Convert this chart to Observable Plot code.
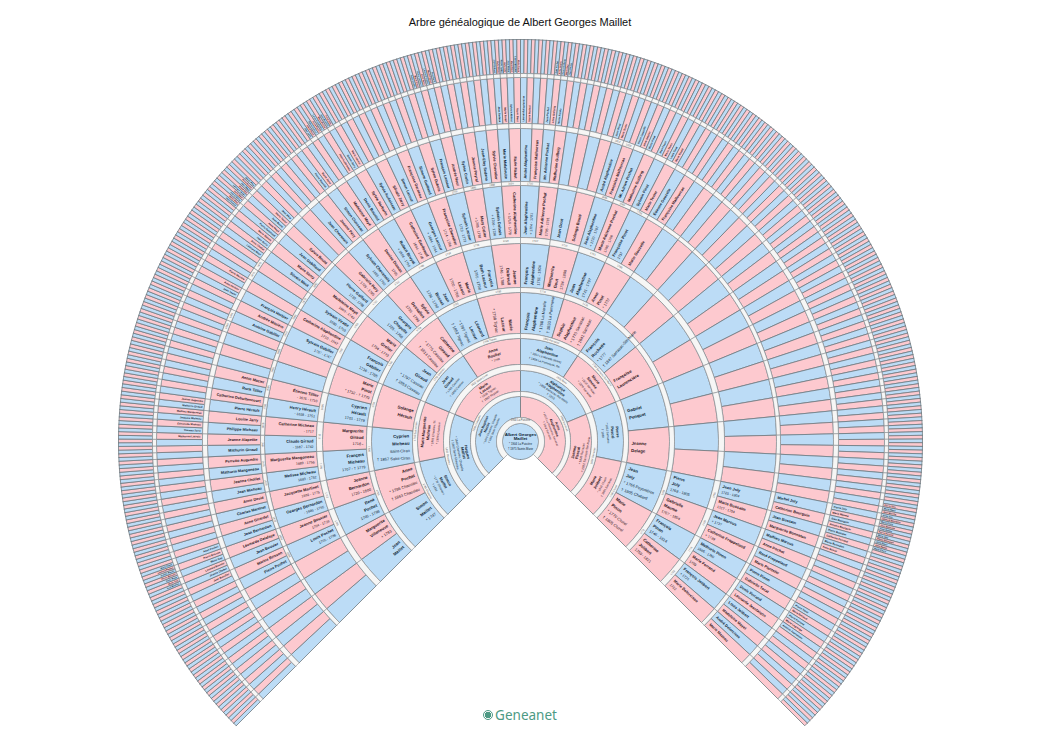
<!DOCTYPE html>
<html lang="fr">
<head>
<meta charset="utf-8">
<script src="https://cdn.jsdelivr.net/npm/d3@7"></script>
<script src="https://cdn.jsdelivr.net/npm/@observablehq/plot@0.6"></script>
<style>
  html, body { margin: 0; padding: 0; background: #fff; }
  body { position: relative; width: 1040px; height: 734px; overflow: hidden; font-family: "Liberation Sans", sans-serif; }
  #title { height: 30px; box-sizing: border-box; padding-top: 15px; text-align: center; font-size: 11px; line-height: 14px; color: #111; }
  #chart svg { display: block; }
  #brand { position: absolute; left: 0; right: 0; top: 705px; height: 20px; display: flex; justify-content: center; align-items: center; gap: 2px;
           font-family: "Noto Sans", sans-serif; font-size: 13.5px; color: #4d9a84; }
  #brand i { display: inline-block; width: 8px; height: 8px; border: 1.8px solid #4d9a84; border-radius: 50%; background: radial-gradient(circle, #4d9a84 55%, #fff 60%); }
</style>
</head>
<body>
<div id="title">Arbre généalogique de Albert Georges Maillet</div>
<div id="chart"></div>
<div id="brand"><i></i><span>Geneanet</span></div>
<script>
// Each entry: index in the generation (from the lower left, clockwise), name lines, detail lines.
const gen0 = [[0, "Albert Georges|Maillet", "* 1904 La Puisière|† 1975 Sainte-Marie"]];
const gen1 = [
  [0, "Jean Baptiste|Maillet", "* 1875 Chassieu, Chapelle|† 1931 Saint-Chassieu"],
  [1, "Anne|Alaphentine", "* 1873 La Pommerie, Sarrazac|† 1949 Sarrazac"]
];
const gen2 = [
  [0, "Hugues|Maillet", "* 1840 Chassieu, Chapelle|† 1902 Saint-Chassieu"],
  [1, "Marie|Lacour", "* 1838 Tignac|† 1880 Peyzac"],
  [2, "Alphonse|Alaphentine", "* 1838 Sarrazac-Ste-Marie|† 1913"],
  [3, "Jeanne|Pascal", "* 1845 Sarrazac|† 1921 Sarrazac-Ste-Marie"]
];
const gen3 = [
  [0, "Simon|Maillet", "* 1778 Chassieu|† 1851"],
  [1, "Marie Marguerite|Micheau", "* 1802 Chassieu, St.|† 1876 Chassieu"],
  [2, "Jean|Giraud", "* 1795 Cassiau|† 1860 Cassiau"],
  [3, "Anne|Boulier", "* 1798"],
  [4, "Jean|Alaphentine", "* 1804 La Morelle (Brive)|† 1855 La Pommerie, Sa."],
  [5, "Marie|Simone", "* 1810 Sarrazac|† 1870 Sarrazac"],
  [6, "Pierre|Pascal", "* 1812 Sarrazac|† 1880"],
  [7, "Marie|Jolibert", "* 1815 Cluzel|† 1881 Sarrazac"]
];
const gen4 = [
  [0, "Simon|Maillet", "* 1747"],
  [1, "Anne|Pochat", "* 1786 Chassieu|† 1863 Chassieu"],
  [2, "Cyprien|Micheau", "Saint-Ciran|† 1867 Saint-Ciran"],
  [3, "Solange|Hérault", ""],
  [4, "Jean|Giraud", "* 1797 Cassiau|† 1853 Cassiau"],
  [5, "Catherine|Giraud", "* 1775 Cassiau|† 1814 Cassiau"],
  [6, "Léonard|Lacour", "* 1797 Tignac|† 1852 Tignac"],
  [7, "Marie|Lacour", "* 1798 Tignac"],
  [8, "François|Alaphentine", "* 1768 La Morelle|† 1833 La Pommerie"],
  [9, "Sophie|Alaphentine", "* 1770 Sarrazac|† 1841 Sarrazac"],
  [10, "François|Rochette", "* 1777|† 1847 Sarrazac-Ste-Marie"],
  [11, "Françoise|Laurencière", ""],
  [12, "Gabriel|Penquet", ""],
  [13, "Jeanne|Delage", ""],
  [14, "Jean|Joly", "* 1766 Peyssières|† 1805 Chatard"],
  [15, "Marie|Pinon", "* 1770 Cluzel|† 1805 Cluzel"]
];
const gen5 = [
  [0, "Jean|Maillet", ""],
  [1, "Marguerite|Villeneuve", "+ 1793"],
  [2, "René|Pochet", "1705 - 1798"],
  [3, "Jeanne|Bernardon", "1720 - 1800"],
  [4, "François|Micheau", "1707 - † 1779"],
  [5, "Marguerite|Giraud", "1716 -"],
  [6, "Cyprien|Hérault", "1701 - 1779"],
  [7, "Marie|Pinot", "* 1732 - † 1779"],
  [8, "François|Gabilier", "1736 - 1785"],
  [9, "Marie|Grelier", "1734 - 1773"],
  [10, "Georges|Chapelle", "1725 - 1768"],
  [11, "Sylvie|Dessalles", "1735 - 1796"],
  [12, "Jean|Bosset", "1736 - 1790"],
  [13, "Marie|Lacour", "1700 - 1768"],
  [14, "François|Beth Lacour", "1755 - 1798"],
  [15, "Jeanne|Dubreuil", "1746 - 1788"],
  [16, "François|Alaphentine", "1751 - 1804"],
  [17, "Marguerite|Gout", "1734 - 1800"],
  [18, "Jean|Alaphentine", "1741 - 1797"],
  [19, "Anne|Pinot", "* 1737"],
  [28, "Pierre|Joly", "1768 - 1805"],
  [29, "Gabrielle|Maume", "1767 - 1804"],
  [30, "François|Pinon", "1746 - 1814"],
  [31, "Catherine|Jolibert", "1750 - 1821"]
];
const gen6 = [
  [4, "Louis Pochet", "1705 - 1786"],
  [5, "Jeanne Bouvier", "1704 - 1738"],
  [6, "Georges Bernardon", "- 1698 - 1755"],
  [7, "Jacquette Martinet", "1692 - 1775"],
  [8, "Melisse Micheau", "1683 - 1752"],
  [9, "Marguerite Mangoneau", "1689 - 1756"],
  [10, "Claude Giraud", "- 1687 - 1742"],
  [11, "Catherine Micheau", "- 1717"],
  [12, "Henry Hérault", "- 1658 - 1751"],
  [13, "Étienne Tillier", "- 1675 - 1710"],
  [16, "Sylvain Gabiller", "1707 - 1747"],
  [17, "Catherine Alaphentine", "1710 - 1747"],
  [18, "Sylvain Viratte", "1680 - 1750"],
  [19, "Madeleine Mayé", "1680 - 1740"],
  [20, "Pierre Gaillard", "1730 - 1798"],
  [21, "Gabrielle Péry", "+ 1725 - 1795"],
  [22, "Sylvain Chevenais", "1695 - 1750"],
  [23, "Denise Dumas", "1705"],
  [24, "Robert Bruyat", "+ 1698 - 1759"],
  [25, "Catherine Gardeaud", "1694 - 1746"],
  [26, "Georges Lacour", "+ 1684 - 1744"],
  [27, "Françoise Chevalier", "1714 - 1786"],
  [28, "Sylvain Lacour", "1713 - 1773"],
  [29, "Mary Catier", "+ 1705 - 1787"],
  [30, "Sylvain Dubois", "+ 1706 - 1736"],
  [31, "Catherine Alaphentine", "+ 1716 - 1778"],
  [32, "Jean Alaphentine", "+ 1704 - 1791"],
  [33, "Marie Adrienne Pochat", "1705 - 1781"],
  [34, "Jean Gout", ""],
  [35, "Solange Bouté", ""],
  [36, "Jean Alaphentine", "+ 1720 - 1797"],
  [37, "Marie Adrienne Pochat", "1705 - 1768"],
  [38, "Françoise Pinot", "1737"],
  [39, "Marie Gouzelle", ""],
  [56, "Jean Joly", "1725 - 1804"],
  [57, "Marie Bussaim", "1727 - 1754"],
  [58, "Jean Marous", "+ 1737"],
  [59, "Catherine Froppelaud", "+ 1739"],
  [60, "Mathurin Pinon", "1686 - 1760"],
  [61, "Marie Ferrand", "1709"],
  [62, "François Jolibert", "+ 1724"],
  [63, "Marie Delorcisse", "1702"]
];
const gen7 = [
  [8, "Pierre Pochet"], [9, "Marine Brisson"], [10, "Jean Bouvier"], [11, "Léonarde Delafaye"],
  [12, "Jean Bernardon"], [13, "Anne Girardet"], [14, "Charles Martinet"], [15, "Anne David"],
  [16, "Jean Micheau"], [17, "Jeanne Chollet"], [18, "Mathurin Mangoneau"], [19, "Perrette Augendre"],
  [20, "Mathurin Giraud"], [21, "Jeanne Alapetite"], [22, "Philippe Micheau"], [23, "Louise Jarry"],
  [24, "Pierre Hérault"], [25, "Catherine Debuttencourt"], [26, "Rock Tillier"], [27, "Annie Mazier"],
  [32, "Antoine Gabiller"], [33, "Andrée Mazière"], [34, "François Herbier"],
  [38, "Silvain Meut"], [39, "Marie Sorry"], [40, "Jean Gabillaud"], [41, "Sylvie Bouté"],
  [44, "Jean Chevenais"], [45, "Jeanne Péry"], [46, "Simon Clusseau"], [47, "Madeleine Mayé"],
  [48, "Denis Bouniol"], [49, "Sylvie Barbarin"], [50, "Sylvie Audoiseau"], [51, "Silvain Jarry"],
  [52, "Simon Lacour"], [53, "Françoise Gardeau"], [54, "Simone Guillaud"], [55, "Sylvie Dubois"],
  [56, "François Lamour"], [57, "Andrée Neur"], [58, "Sylvie Crutin"], [59, "Jeanne Peyrol"],
  [60, "Jean-Eloy Sedana"], [61, "Sylvie Chevalier"], [62, "Marie Malabruite"], [63, "Marie Mabut"],
  [64, "André Alaphentine"], [65, "Françoise Malfourcas"], [66, "Mr. Adrienne Pochat"], [67, "Mathurine Guilbrig"],
  [72, "André Alaphentine"], [73, "Françoise Malfourcas"], [74, "Mr. Adrien Pochat"], [75, "Mathurine Guilbrig"],
  [76, "Sylvain Pinot"], [77, "Marie Texier"], [78, "Étienne Gouzelle"], [79, "Françoise Malfourcas"],
  [112, "Michel Joly"], [113, "Catherine Bourguin"], [114, "Jean Bussain"], [115, "Marguerite Bonnaton"],
  [116, "Mathieu Marous"], [117, "Anne Pochet"], [118, "René Froppelaud"], [119, "Marie Plantefer"],
  [120, "Pierre Pinon"], [121, "Gabrielle Tocat"], [122, "Denis Ferrand"], [123, "Léonarde Jeantaison"],
  [124, "Louis Jolibert"], [125, "Madeleine Mayet"], [126, "André Delorcisse"], [127, "Marie Mazeau"]
];
const gen8 = [
  [19, "Jean Boucher"], [20, "Jeanne Chabot"], [21, "Léonard Bouvier"], [22, "Marie Gay"], [23, "Pierre Brisson"], [24, "Anne Pochet"],
  [43, "Mathurine Lacroix"], [44, "Thomas Jarry"], [45, "Étiennette Micheau"], [46, "Jacques Micheau"],
  [47, "Mathieu Mangoneau"], [48, "Mathurin Giraud"], [49, "Jeanne Augendre"],
  [68, "Jean Texier"], [69, "Anne Herbier"], [71, "Pierre Mazière"],
  [76, "Léonard Meut"], [77, "Anne Chollet"], [78, "Jean Sorry"], [79, "Marie Dubois"], [80, "Pierre Gabillaud"],
  [81, "Anne Mayé"], [82, "Jean Bouté"], [83, "Marie Texier"], [84, "Jean Péry"],
  [92, "Pierre Bouniol"], [93, "Marie Jarry"],
  [97, "Jean Audoiseau"], [98, "Simon Jarry"], [99, "Marie Lacour"],
  [124, "Jean Sedana"], [125, "Marie Tardif"], [126, "Sylvain Mabut"], [127, "Marie Bost"], [128, "Léonard Alaphentine"], [129, "Marie Pochat"],
  [132, "Jean Pochat"], [133, "Anne Guilbrig"], [134, "Marie Rouby"],
  [144, "Jean Pinot"], [145, "Marie Texier"],
  [148, "Pierre Gouzelle"], [149, "Anne Soulier"], [150, "Marie Pinot"],
  [152, "Jean Faure"], [153, "Marie Faure"], [154, "Louis Gout"], [155, "Marie Bouté"],
  [224, "Pierre Joly"], [225, "Marie Maume"], [226, "Jean Bourguin"], [227, "Antoine Bourguin"],
  [228, "Pierre Bussaim"], [229, "Catherine Ferrand"], [230, "Blaise Bonnaton"], [231, "Anne Bossé"],
  [242, "Pierre Tocat"], [243, "Marie Barlaud"], [244, "Pierre Ferrand"], [245, "Marie Lagrange"], [246, "Antoine Jeantaison"]
];
const gen9 = [
  [42, "Jean Bouvier"], [43, "Marie Gay"], [44, "Anne Roux"], [45, "Pierre Brisson"], [46, "Jeanne Roche"], [47, "Léonard Pochet"], [48, "Marie Faure"],
  [160, "Jean Dubois"], [161, "Marie Meut"], [162, "Pierre Sorry"], [163, "Anne Meut"], [164, "Léonard Texier"], [165, "Marie Gay"], [166, "Jean Mayé"], [167, "Anne Roche"], [168, "Simon Péry"],
  [190, "Jean Jarry"], [191, "Marie Roux"], [192, "Pierre Lacour"], [193, "Anne Faure"], [194, "Louis Audoiseau"], [195, "Marie Roche"], [196, "Jean Bouniol"], [197, "Anne Gay"],
  [224, "Jean Dumas"], [225, "Marie Gout"], [226, "Pierre Lamour"], [227, "Anne Neur"], [228, "Léonard Crutin"], [229, "Marie Peyrol"], [230, "Jean Bost"],
  [248, "Jean Sedana"], [249, "Marie Roux"], [250, "Pierre Tardif"], [251, "Anne Gay"], [252, "Jean Mabut"], [253, "Marie Bost"], [254, "Léonard Mabut"], [255, "Marie Faure"],
  [266, "Jean Pochat"], [267, "Anne Rouby"], [268, "Pierre Guilbrig"], [269, "Marie Gay"], [270, "Jean Rouby"],
  [445, "Pierre Joly"], [446, "Marie Roux"], [447, "Jean Maume"], [448, "Anne Gay"], [449, "Léonard Bourguin"], [450, "Marie Faure"], [451, "Jean Bussaim"], [452, "Anne Roche"],
  [453, "Pierre Ferrand"], [454, "Marie Gay"], [455, "Blaise Bonnaton"], [456, "Anne Roux"], [457, "Jean Bossé"], [458, "Marie Faure"]
];
const generations = [gen0, gen1, gen2, gen3, gen4, gen5, gen6, gen7, gen8, gen9];

// Marriage labels: ring after generation g, couple index, text.
const marriages = [
  [0, 0, "1900 La Puisière"],
  [1, 0, "1839 Chassieu"], [1, 1, "1868 Sarrazac"],
  [2, 0, "1815 Chassieu"], [2, 1, "1832 Saint-Ciran"], [2, 2, "1826 Brive"], [2, 3, "1834 Sarrazac"],
  [3, 0, "1786 Chassieu"], [3, 1, "1755 Saint-Ciran"], [3, 2, "1776 Cassiau"], [3, 3, "1798 Tignac"],
  [3, 4, "1800 Sarrazac"], [3, 5, "1764 Sarrazac-Ste-Marie"], [3, 7, "1790 Cluzel"],
  [4, 1, "1755"], [4, 2, "1736"], [4, 3, "1730"], [4, 4, "1760"], [4, 5, "1758"], [4, 6, "1725"], [4, 7, "1750"],
  [4, 8, "1770"], [4, 9, "1735"], [4, 14, "1765"], [4, 15, "1772"],
  [5, 2, "1725"], [5, 3, "1712"], [5, 4, "1705"], [5, 5, "1712"], [5, 6, "1695"], [5, 8, "1730"], [5, 9, "1705"], [5, 10, "1730"],
  [5, 11, "1722"], [5, 12, "1706"], [5, 13, "1710"], [5, 14, "1736"], [5, 15, "1703"], [5, 16, "1727"], [5, 17, "1710"], [5, 18, "1721"], [5, 19, "1730"],
  [5, 28, "1750"], [5, 29, "1736"], [5, 30, "1710"], [5, 31, "1723"],
  [6, 4, "1690"], [6, 5, "1680"], [6, 6, "1675"], [6, 8, "1670"], [6, 9, "1675"], [6, 10, "1664"], [6, 11, "1660"], [6, 12, "1700"], [6, 13, "1695"], [6, 14, "1690"],
  [6, 15, "1685"], [6, 16, "1670"], [6, 17, "1680"], [6, 18, "1675"], [6, 19, "1690"], [6, 28, "1700"], [6, 29, "1695"], [6, 30, "1688"],
  [6, 31, "1694"], [6, 32, "1700"], [6, 36, "1696"], [6, 37, "1690"], [6, 38, "1708"],
  [7, 31, "1660"], [7, 32, "1665"], [7, 36, "1670"], [7, 37, "1675"], [7, 72, "1652"], [7, 73, "1650"]
].filter(d => d[1] < 2 ** d[0]);

// Fan layout (radii of each generation band, in px of the x/y scales).
const bands = [[0, 18], [24, 45], [50, 71], [77, 103], [108, 149], [154, 198], [204, 256], [260, 313], [318, 364], [368, 402]];
const nameSize =   [4.4, 3.4, 3.9, 3.9, 4.3, 4.2, 4, 3.8, 2.6, 2.2];
const detailSize = [2.8, 2.7, 3, 2.9, 4, 3.8, 3.5, 3.5, 2.6, 2.2];
const lineGap =    [4.9, 3.8, 4.1, 4.9, 7.4, 6.4, 5.7, 5, 3, 2];
const pad =        [0, 0, 0, 0, 3, 3, 3, 3, 2, 1.5];
const SPAN = 135;

const px = (r, a) => r * Math.sin(a * Math.PI / 180);
const py = (r, a) => -r * Math.cos(a * Math.PI / 180);

function sector(id, sex, r0, r1, a0, a1) {
  const n = Math.max(1, Math.ceil((a1 - a0) / 2));
  const pts = [];
  for (let k = 0; k <= n; k++) { const a = a0 + (a1 - a0) * k / n; pts.push({id, sex, x: px(r1, a), y: py(r1, a)}); }
  if (r0 > 0) for (let k = n; k >= 0; k--) { const a = a0 + (a1 - a0) * k / n; pts.push({id, sex, x: px(r0, a), y: py(r0, a)}); }
  pts.push({...pts[0]});
  return pts;
}

const cellPts = [], ringPts = [];
bands.forEach(([r0, r1], g) => {
  const count = 2 ** g, step = 2 * SPAN / count;
  for (let i = 0; i < count; i++) {
    const a0 = g === 0 ? -180 : -SPAN + step * i;
    const a1 = g === 0 ? 180 : a0 + step;
    cellPts.push(...sector(`c${g}-${i}`, i % 2 ? "mère" : "père", r0, r1, a0, a1));
    if (g < bands.length - 1) {
      const s0 = -SPAN + step * i;
      ringPts.push(...sector(`r${g}-${i}`, "ring", r1, bands[g + 1][0], s0, s0 + step));
    }
  }
});

const rows = [];
function flip(a) { return Math.abs(a) > 90 ? a - Math.sign(a) * 180 : a; }
generations.forEach((list, g) => {
  const count = 2 ** g, [r0, r1] = bands[g];
  for (const [i, name, detail = ""] of list) {
    const a = g === 0 ? 0 : -SPAN + 2 * SPAN * (i + 0.5) / count;
    const names = name.split("|"), details = detail ? detail.split("|") : [];
    const n = names.length + details.length;
    const tangent = g <= 3;
    const rot = tangent ? flip(a) : (a >= 0 ? a - 90 : a + 90);
    const rad = g === 0 ? 0 : tangent ? (r0 + r1) / 2 : r0 + pad[g];
    const anchor = tangent ? "middle" : (a >= 0 ? "start" : "end");
    const th = rot * Math.PI / 180;
    const ink = i % 2 ? "#2e141a" : "#0d1e34";
    [...names, ...details].forEach((text, k) => {
      const off = (k - (n - 1) / 2) * lineGap[g];
      const bold = k < names.length;
      rows.push({text, anchor, bold, ink, rot, size: bold ? nameSize[g] : detailSize[g],
        x: px(rad, a) - off * Math.sin(th), y: py(rad, a) + off * Math.cos(th)});
    });
  }
});

const ringRows = marriages.map(([g, i, text]) => {
  const a = -SPAN + 2 * SPAN * (i + 0.5) / 2 ** g;
  const rad = (bands[g][1] + bands[g + 1][0]) / 2;
  return {text, rot: flip(a), x: px(rad, a), y: py(rad, a)};
});

const textMarks = [];
for (const anchor of ["start", "middle", "end"]) {
  for (const bold of [true, false]) {
    textMarks.push(Plot.text(rows.filter(d => d.anchor === anchor && d.bold === bold), {
      x: "x", y: "y", text: "text", rotate: "rot", fontSize: d => d.size,
      fill: {value: d => d.ink, scale: null},
      textAnchor: anchor, fontWeight: bold ? "bold" : "normal", fontFamily: "Liberation Sans"
    }));
  }
}

const chart = Plot.plot({
  width: 1040, height: 704,
  margin: 0,
  x: {domain: [-520, 520], range: [0, 1040], axis: null},
  y: {domain: [-411, 293], range: [0, 704], axis: null},
  color: {domain: ["père", "mère", "ring"], range: ["#bcdcf6", "#fdc9cf", "#f6f6f5"]},
  style: {background: "transparent"},
  marks: [
    Plot.line(cellPts, {x: "x", y: "y", z: "id", fill: "sex", stroke: "#6f7a80", strokeWidth: 0.8}),
    Plot.line(ringPts, {x: "x", y: "y", z: "id", fill: "sex", stroke: "#868c90", strokeWidth: 0.6}),
    ...textMarks,
    Plot.text(ringRows, {x: "x", y: "y", text: "text", rotate: "rot", fontSize: 2.6, fill: "#555", fontFamily: "Liberation Sans"})
  ]
});
document.getElementById("chart").appendChild(chart);
</script>
</body>
</html>
